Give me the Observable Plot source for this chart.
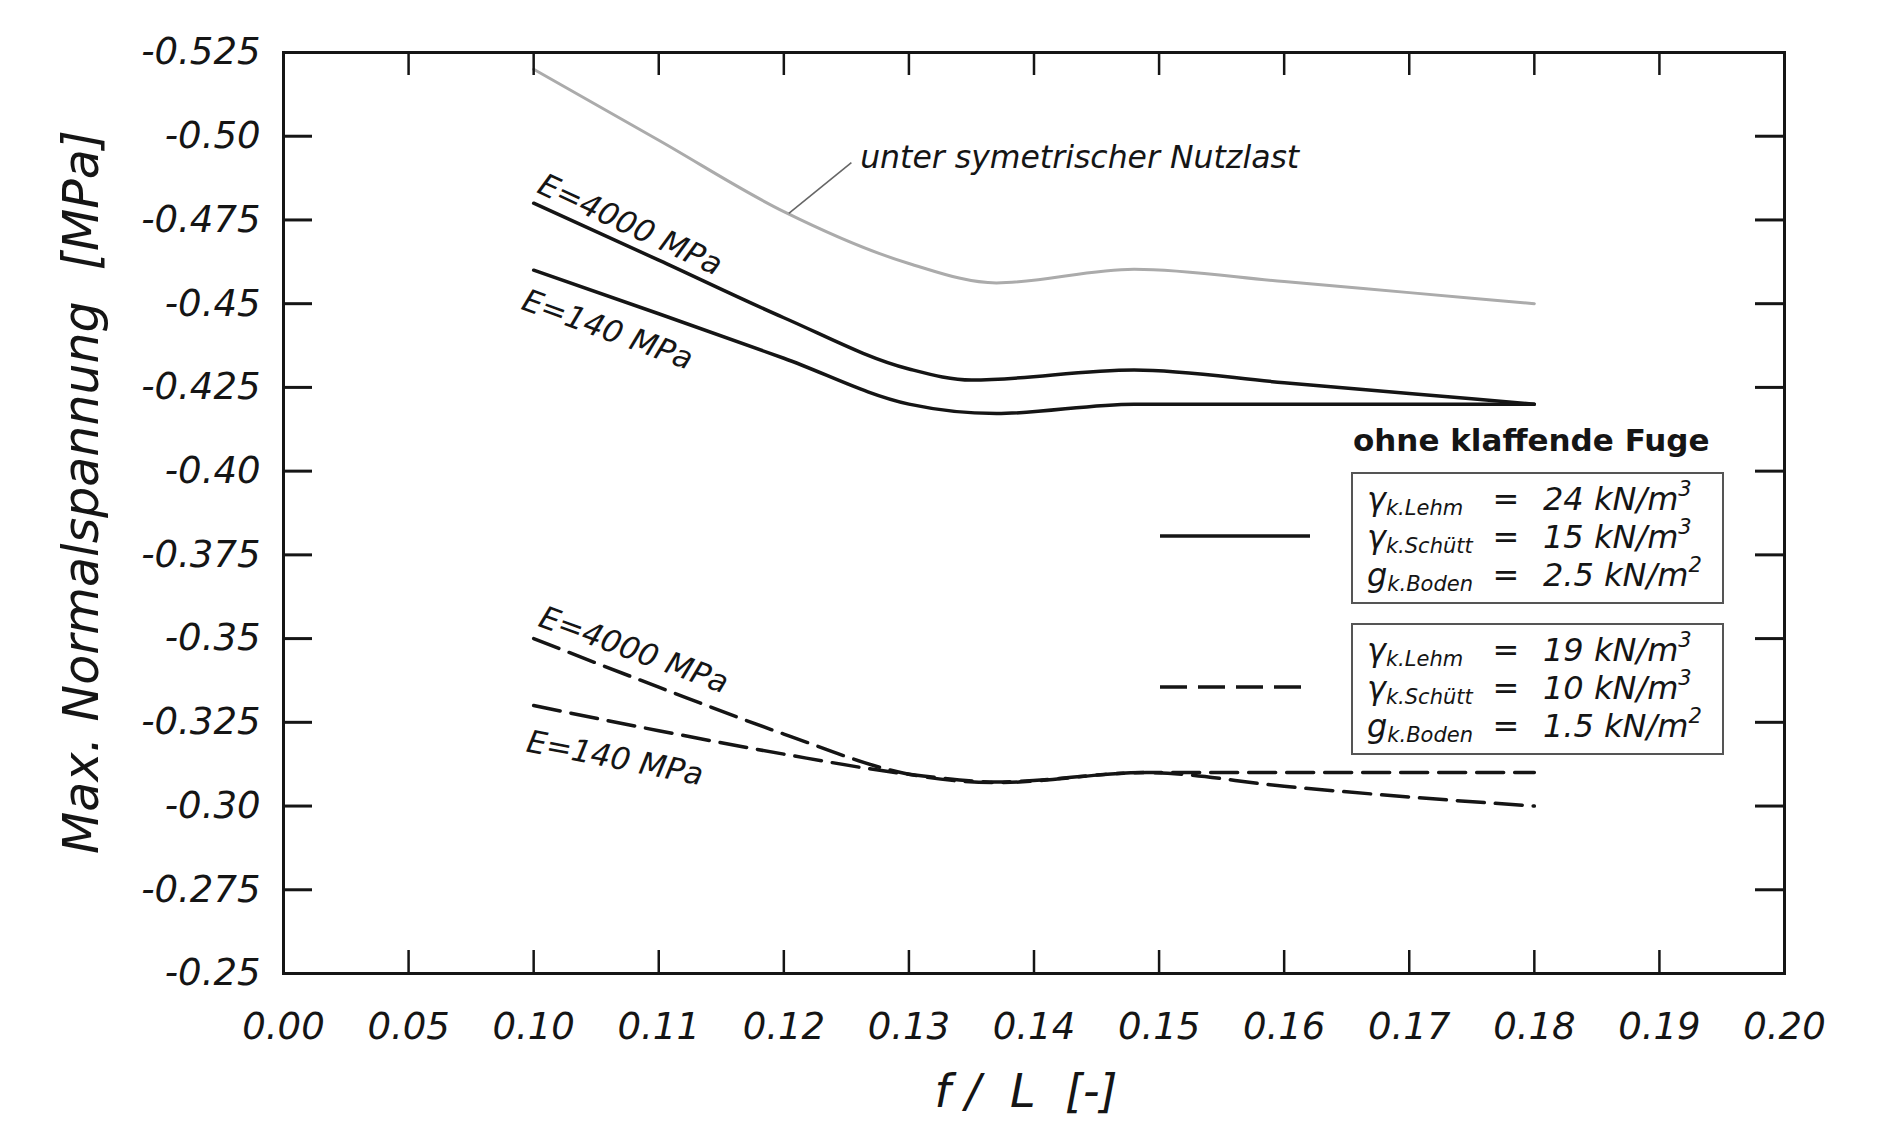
<!DOCTYPE html>
<html><head><meta charset="utf-8">
<script src="https://cdn.jsdelivr.net/npm/d3@7"></script>
<script src="https://cdn.jsdelivr.net/npm/@observablehq/plot@0.6"></script>
<style>
html,body{margin:0;padding:0;background:#fff;}
#chart svg{display:block;}
</style></head><body><div id="chart"></div>
<script>
// ---- axis ticks ----
const xTicks = [0, 0.05, 0.10, 0.11, 0.12, 0.13, 0.14, 0.15, 0.16, 0.17, 0.18, 0.19, 0.20];
const xTickLabels = ["0.00","0.05","0.10","0.11","0.12","0.13","0.14","0.15","0.16","0.17","0.18","0.19","0.20"];
const yTicks = [-0.525,-0.50,-0.475,-0.45,-0.425,-0.40,-0.375,-0.35,-0.325,-0.30,-0.275,-0.25];
const yTickLabels = ["-0.525","-0.50","-0.475","-0.45","-0.425","-0.40","-0.375","-0.35","-0.325","-0.30","-0.275","-0.25"];

// ---- series (f/L, max. Normalspannung in MPa) ----
const fNutzlast = [0.10,0.11,0.12,0.13,0.137,0.148,0.16,0.17,0.18];
const sNutzlast = [-0.520,-0.4988,-0.4775,-0.462,-0.4562,-0.4603,-0.4566,-0.4533,-0.4500];

const fE4000solid = [0.10,0.11,0.12,0.13,0.135,0.148,0.16,0.17,0.18];
const sE4000solid = [-0.480,-0.4630,-0.4458,-0.4305,-0.4272,-0.4302,-0.4264,-0.4232,-0.4200];

const fE140solid = [0.10,0.11,0.12,0.13,0.137,0.148,0.16,0.17,0.18];
const sE140solid = [-0.460,-0.4470,-0.4337,-0.4200,-0.4172,-0.4200,-0.4200,-0.4200,-0.4200];

const fE4000dash = [0.10,0.11,0.12,0.13,0.137,0.149,0.16,0.17,0.18];
const sE4000dash = [-0.350,-0.3355,-0.3215,-0.3095,-0.3070,-0.3100,-0.3059,-0.3027,-0.3000];

const fE140dash = [0.10,0.11,0.12,0.13,0.137,0.149,0.16,0.17,0.18];
const sE140dash = [-0.330,-0.3225,-0.3155,-0.3095,-0.3072,-0.3100,-0.3100,-0.3100,-0.3100];

// ---- curve labels (anchor in data space) ----
const curveLabelText = ["E=4000 MPa","E=140 MPa","E=4000 MPa","E=140 MPa"];
const curveLabelF = [0.1077, 0.1059, 0.1080, 0.1065];
const curveLabelS = [-0.4735, -0.4421, -0.3465, -0.3142];
const curveLabelAngle = [25, 20, 20, 11];

const noteText = ["unter symetrischer Nutzlast"];
const noteF = [0.1261]; const noteS = [-0.4906];
const leaderF = [0.1254, 0.1204]; const leaderS = [-0.4921, -0.4770];

// ---- legend ----
const legendTitle = "ohne klaffende Fuge";
const legendSymbols = ["γ","γ","g"];
const legendSubs = ["k.Lehm","k.Schütt","k.Boden"];
const legendValuesSolid = ["24 kN/m","15 kN/m","2.5 kN/m"];
const legendValuesDashed = ["19 kN/m","10 kN/m","1.5 kN/m"];
const legendExponents = ["3","3","2"];

// ---- build ----
const W = 1881, H = 1125, mL = 283, mR = 97, mT = 52, mB = 152;
const fw = W - mL - mR, fh = H - mT - mB;
const x10 = xTicks.indexOf(0.10) / (xTicks.length - 1);
const xLab = new Map(xTicks.map((d,i)=>[d, xTickLabels[i]]));
const yLab = new Map(yTicks.map((d,i)=>[d, yTickLabels[i]]));
const rows = (fs, ss) => fs.map((f,i)=>({f, s: ss[i]}));
const labels = curveLabelText.map((t,i)=>({t, f: curveLabelF[i], s: curveLabelS[i], a: curveLabelAngle[i]}));
const FONT = "DejaVu Sans";
const DASH = "27,11";
const INK = "#151515";

const chart = Plot.plot({
  width: W, height: H,
  marginLeft: mL, marginRight: mR, marginTop: mT, marginBottom: mB,
  style: {fontFamily: FONT, background: "#fff", color: INK},
  x: {type: "linear", domain: [0, 0.10, 0.20], range: [mL, mL + fw * x10, W - mR]},
  y: {type: "linear", domain: [-0.25, -0.525]},
  marks: [
    Plot.line(rows(fNutzlast, sNutzlast), {x: "f", y: "s", curve: "monotone-x", stroke: "#ababab", strokeWidth: 3}),
    Plot.line(rows(fE4000solid, sE4000solid), {x: "f", y: "s", curve: "monotone-x", stroke: INK, strokeWidth: 3.5}),
    Plot.line(rows(fE140solid, sE140solid), {x: "f", y: "s", curve: "monotone-x", stroke: INK, strokeWidth: 3.5}),
    Plot.line(rows(fE4000dash, sE4000dash), {x: "f", y: "s", curve: "monotone-x", stroke: INK, strokeWidth: 3.5, strokeDasharray: DASH}),
    Plot.line(rows(fE140dash, sE140dash), {x: "f", y: "s", curve: "monotone-x", stroke: INK, strokeWidth: 3.5, strokeDasharray: DASH}),
    Plot.link([0], {x1: () => leaderF[0], y1: () => leaderS[0], x2: () => leaderF[1], y2: () => leaderS[1], stroke: "#666", strokeWidth: 1.6}),
    Plot.text(noteText, {x: () => noteF[0], y: () => noteS[0], text: d => d, textAnchor: "start", lineAnchor: "bottom", fontSize: 31.5, fontStyle: "italic", fill: INK}),
    Plot.text(labels, {x: "f", y: "s", text: "t", rotate: "a", textAnchor: "middle", lineAnchor: "middle", fontSize: 31, fontStyle: "italic", fill: INK}),
    // inward ticks on all four sides
    Plot.tickY(yTicks, {y: d => d, insetRight: fw - 29, stroke: INK, strokeWidth: 3}),
    Plot.tickY(yTicks, {y: d => d, insetLeft: fw - 29, stroke: INK, strokeWidth: 3}),
    Plot.tickX(xTicks, {x: d => d, insetBottom: fh - 23, stroke: INK, strokeWidth: 2.5}),
    Plot.tickX(xTicks, {x: d => d, insetTop: fh - 23, stroke: INK, strokeWidth: 2.5}),
    Plot.frame({stroke: INK, strokeWidth: 3}),
    Plot.axisY({ticks: yTicks, anchor: "left", tickSize: 0, tickPadding: 23, tickFormat: d => yLab.get(d), fontSize: 37, fontStyle: "italic", label: null}),
    Plot.axisX({ticks: xTicks, anchor: "bottom", tickSize: 0, tickPadding: 39, tickFormat: d => xLab.get(d), fontSize: 37, fontStyle: "italic", label: null}),
    Plot.text(["Max. Normalspannung\u00a0 [MPa]"], {frameAnchor: "left", textAnchor: "middle", lineAnchor: "middle", rotate: -90, dx: -201, dy: -21, fontSize: 49, fontStyle: "italic", fill: INK}),
    Plot.text(["f\u00a0/\u00a0\u00a0L\u00a0\u00a0[-]"], {frameAnchor: "bottom", textAnchor: "middle", lineAnchor: "middle", dy: 119, dx: -8, fontSize: 46, fontStyle: "italic", fill: INK})
  ]
});
document.getElementById("chart").appendChild(chart);

// ---- legend (drawn into the same svg) ----
const svg = d3.select(chart);
const lg = svg.append("g").attr("font-family", FONT).attr("fill", INK).attr("text-anchor", "start");
lg.append("text").attr("x", 1353).attr("y", 451).attr("font-weight", "bold").attr("font-size", 31).text(legendTitle);
const boxes = [{top: 473, vals: legendValuesSolid, dash: null}, {top: 624, vals: legendValuesDashed, dash: DASH}];
boxes.forEach(b => {
  lg.append("rect").attr("x", 1352).attr("y", b.top).attr("width", 371).attr("height", 130)
    .attr("fill", "none").attr("stroke", "#555").attr("stroke-width", 2);
  lg.append("line").attr("x1", 1160).attr("x2", 1310).attr("y1", b.top + 63).attr("y2", b.top + 63)
    .attr("stroke", INK).attr("stroke-width", 3.5).attr("stroke-dasharray", b.dash);
  legendSymbols.forEach((sym, i) => {
    const yb = b.top + 37 + i * 38;
    const t1 = lg.append("text").attr("x", 1367).attr("y", yb).attr("font-size", 32).attr("font-style", "italic").attr("text-anchor", "start");
    t1.append("tspan").text(sym);
    t1.append("tspan").attr("font-size", 21).attr("dy", 5).text(legendSubs[i]);
    lg.append("text").attr("x", 1506).attr("y", yb).attr("font-size", 32).attr("text-anchor", "middle").text("=");
    const t2 = lg.append("text").attr("x", 1543).attr("y", yb).attr("font-size", 32).attr("font-style", "italic").attr("text-anchor", "start");
    t2.append("tspan").text(b.vals[i]);
    t2.append("tspan").attr("font-size", 21).attr("dy", -14).text(legendExponents[i]);
  });
});
</script></body></html>
